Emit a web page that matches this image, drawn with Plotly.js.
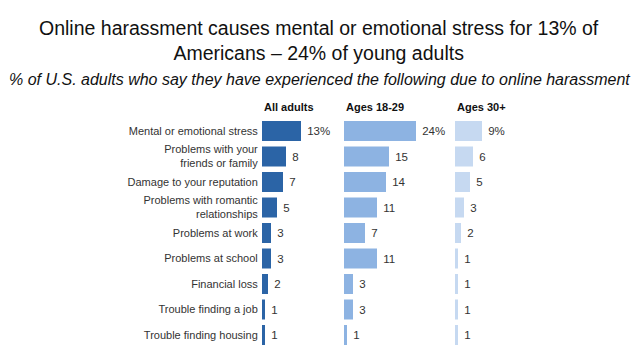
<!DOCTYPE html>
<html>
<head>
<meta charset="utf-8">
<script src="https://cdn.plot.ly/plotly-3.0.1.min.js"></script>
<style>html,body{margin:0;padding:0;background:#fff;}#chart{width:638px;height:359px;}</style>
</head>
<body>
<div id="chart"></div>
<script>
const categories = [
  "Mental or emotional stress",
  "Problems with your<br>friends or family",
  "Damage to your reputation",
  "Problems with romantic<br>relationships",
  "Problems at work",
  "Problems at school",
  "Financial loss",
  "Trouble finding a job",
  "Trouble finding housing"
];
const allAdults = [13, 8, 7, 5, 3, 3, 2, 1, 1];
const ages18to29 = [24, 15, 14, 11, 7, 11, 3, 3, 1];
const ages30plus = [9, 6, 5, 3, 2, 1, 1, 1, 1];
const groupNames = ["All adults", "Ages 18-29", "Ages 30+"];
const titleText = "Online harassment causes mental or emotional stress for 13% of<br>Americans \u2013 24% of young adults";
const subtitleText = "% of U.S. adults who say they have experienced the following due to online harassment";

const W = 638, H = 359;
const colors = ["#2b64a6", "#8db3e2", "#c6d9f1"];
const series = [allAdults, ages18to29, ages30plus];
const pxPerUnit = 3;
const starts = [262, 344, 455];
const widths = [75, 105, 105];

const labels = v => v.map((d, i) => "\u00a0" + (i === 0 ? d + "%" : String(d)));
const traces = series.map((vals, k) => ({
  type: "bar",
  orientation: "h",
  x: vals,
  y: categories,
  xaxis: k === 0 ? "x" : "x" + (k + 1),
  yaxis: "y",
  marker: {color: colors[k]},
  width: 0.78,
  text: labels(vals),
  textposition: "outside",
  cliponaxis: false,
  textfont: {family: "Liberation Sans, Arial, sans-serif", size: 11.5, color: "#333"},
  hoverinfo: "skip"
}));

const yTop = 118.25, yBot = 347.75;
const layout = {
  width: W, height: H,
  margin: {l: 0, r: 0, t: 0, b: 0},
  paper_bgcolor: "#fff", plot_bgcolor: "#fff",
  showlegend: false,
  bargap: 0.2,
  yaxis: {
    domain: [1 - yBot / H, 1 - yTop / H],
    autorange: "reversed",
    type: "category",
    showgrid: false, zeroline: false, showline: false,
    ticks: "outside", ticklen: 1, tickcolor: "rgba(0,0,0,0)",
    tickfont: {family: "Liberation Sans, Arial, sans-serif", size: 11, color: "#333"},
    anchor: "x"
  },
  annotations: [
    {text: titleText, xref: "paper", yref: "paper", x: 0.5, xanchor: "center",
     y: 1 - 40.5 / H, yanchor: "middle", showarrow: false,
     font: {family: "Liberation Sans, Arial, sans-serif", size: 19.5, color: "#111"}},
    {text: "<i>" + subtitleText + "</i>", xref: "paper", yref: "paper", x: 0.5, xanchor: "center",
     y: 1 - 80 / H, yanchor: "middle", showarrow: false,
     font: {family: "Liberation Sans, Arial, sans-serif", size: 16, color: "#111"}}
  ]
};
["xaxis", "xaxis2", "xaxis3"].forEach((ax, k) => {
  layout[ax] = {
    domain: [starts[k] / W, (starts[k] + widths[k]) / W],
    range: [0, widths[k] / pxPerUnit],
    showgrid: false, zeroline: false, showline: false, showticklabels: false, ticks: "",
    anchor: "y", fixedrange: true
  };
  layout.annotations.push({
    text: "<b>" + groupNames[k] + "</b>", xref: "paper", yref: "paper",
    x: starts[k] / W, xanchor: "left", y: 1 - 107 / H, yanchor: "middle", showarrow: false,
    font: {family: "Liberation Sans Narrow, Liberation Sans, Arial, sans-serif", size: 11, color: "#111"}
  });
});

Plotly.newPlot("chart", traces, layout, {displayModeBar: false, staticPlot: true});
</script>
</body>
</html>
